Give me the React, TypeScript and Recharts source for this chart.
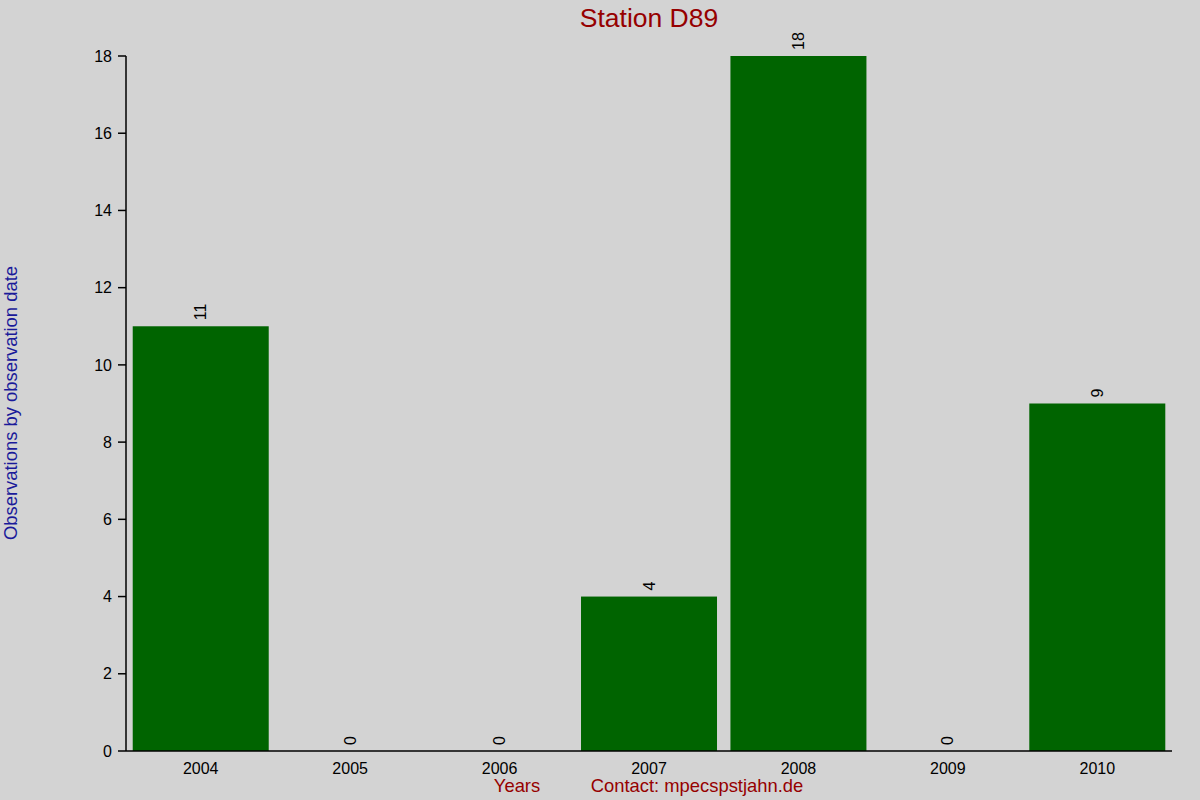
import React from "react";
import { BarChart, Bar, XAxis, YAxis, LabelList } from "recharts";

const years = ["2004", "2005", "2006", "2007", "2008", "2009", "2010"];
const counts = [11, 0, 0, 4, 18, 0, 9];
const yTicks = [0, 2, 4, 6, 8, 10, 12, 14, 16, 18];

const data = years.map((y, i) => ({ year: y, value: counts[i] }));

const FONT = "'Liberation Sans', Arial, sans-serif";

const BarLabel = (props: any) => {
  const { x, y, width, value } = props;
  if (x == null || y == null) return null;
  const cx = Number(x) + Number(width) / 2;
  const ty = Number(y) - 6;
  return (
    <text
      x={cx}
      y={ty}
      transform={`rotate(-90, ${cx}, ${ty})`}
      textAnchor="start"
      dominantBaseline="central"
      fontSize={16}
      fontFamily={FONT}
      fill="#000"
    >
      {value}
    </text>
  );
};

const BarShape = (props: any) => {
  const { x, y, width, height, payload } = props;
  if (!payload || payload.value === 0 || height <= 0) return null;
  return <rect x={x} y={y} width={width} height={height} fill="#006400" />;
};

export default function App() {
  return (
    <div
      style={{
        position: "absolute",
        left: 0,
        top: 0,
        width: 1200,
        height: 800,
        background: "#d3d3d3",
        fontFamily: FONT,
        overflow: "hidden",
      }}
    >
      <BarChart
        width={1200}
        height={800}
        data={data}
        margin={{ top: 56, right: 28, bottom: 19, left: 66 }}
        barCategoryGap="4.5%"
      >
        <XAxis
          dataKey="year"
          axisLine={{ stroke: "#000", strokeWidth: 1.5 }}
          tickLine={false}
          tick={{ fill: "#000", fontSize: 16, fontFamily: FONT }}
          tickMargin={6}
          height={30}
        />
        <XAxis
          xAxisId="top"
          dataKey="year"
          orientation="top"
          axisLine={false}
          tickLine={{ stroke: "#000" }}
          tickSize={1}
          tick={false}
          height={0}
        />
        <YAxis
          domain={[0, 18]}
          ticks={yTicks}
          interval={0}
          width={60}
          axisLine={{ stroke: "#000", strokeWidth: 1.5 }}
          tickLine={{ stroke: "#000", strokeWidth: 1.5 }}
          tickSize={8}
          tickMargin={6}
          tick={{ fill: "#000", fontSize: 16, fontFamily: FONT }}
        />
        <Bar
          dataKey="value"
          fill="#006400"
          minPointSize={0.01}
          shape={<BarShape />}
          isAnimationActive={false}
        >
          <LabelList dataKey="value" content={<BarLabel />} />
        </Bar>
      </BarChart>
      <div
        style={{
          position: "absolute",
          left: 0,
          width: 1298,
          top: 3,
          textAlign: "center",
          fontSize: 26.5,
          color: "#960000",
          lineHeight: "30px",
        }}
      >
        Station D89
      </div>
      <div
        style={{
          position: "absolute",
          left: 11,
          top: 403,
          transform: "translate(-50%, -50%) rotate(-90deg)",
          whiteSpace: "nowrap",
          fontSize: 18.4,
          color: "#1a1a9a",
          lineHeight: "22px",
        }}
      >
        Observations by observation date
      </div>
      <div
        style={{
          position: "absolute",
          left: 517,
          top: 786,
          transform: "translate(-50%, -50%)",
          whiteSpace: "nowrap",
          fontSize: 18.4,
          color: "#960000",
          lineHeight: "22px",
        }}
      >
        Years
      </div>
      <div
        style={{
          position: "absolute",
          left: 697,
          top: 786,
          transform: "translate(-50%, -50%)",
          whiteSpace: "nowrap",
          fontSize: 18.4,
          color: "#960000",
          lineHeight: "22px",
        }}
      >
        Contact: mpecspstjahn.de
      </div>
    </div>
  );
}
